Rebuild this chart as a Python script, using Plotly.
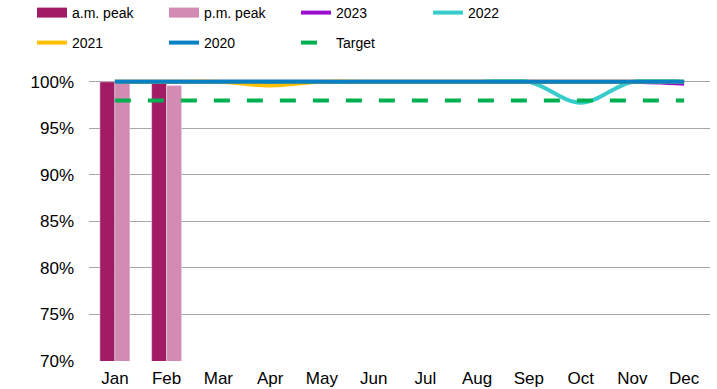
import plotly.graph_objects as go

months = ["Jan", "Feb", "Mar", "Apr", "May", "Jun",
          "Jul", "Aug", "Sep", "Oct", "Nov", "Dec"]

# Peak-period values (%), only reported for the first two months
am_peak = [100.0, 100.0, None, None, None, None, None, None, None, None, None, None]
pm_peak = [100.0, 99.6, None, None, None, None, None, None, None, None, None, None]

# Yearly lines (%)
y2023 = [100.0, 100.0, 100.0, 100.0, 100.0, 100.0, 100.0, 100.0, 100.0, 100.0, 100.0, 99.8]
y2022 = [100.0, 100.0, 100.0, 100.0, 100.0, 100.0, 100.0, 100.0, 100.0, 97.75, 100.0, 100.0]
y2021 = [100.0, 100.0, 100.0, 99.6, 100.0, 100.0, 100.0, 100.0, 100.0, 100.0, 100.0, 100.0]
y2020 = [100.0] * 12
target = [98.0] * 12

y_ticks = [70, 75, 80, 85, 90, 95, 100]
y_tick_labels = ["70%", "75%", "80%", "85%", "90%", "95%", "100%"]

AM_COLOR = "#A31B65"
PM_COLOR = "#D38BB3"
C2023 = "#9A0FCF"
C2022 = "#36CCCC"
C2021 = "#FFC000"
C2020 = "#0880C4"
CTARGET = "#00B050"
FONT = "Liberation Sans, Arial, sans-serif"

fig = go.Figure()

fig.add_trace(go.Bar(x=months, y=am_peak, marker_color=AM_COLOR, showlegend=False, name="a.m. peak"))
fig.add_trace(go.Bar(x=months, y=pm_peak, marker_color=PM_COLOR, showlegend=False, name="p.m. peak"))

# Legend entries for the bars drawn as thick swatches
fig.add_trace(go.Scatter(x=[None], y=[None], mode="lines", name="a.m. peak",
                         line=dict(color=AM_COLOR, width=10), legend="legend"))
fig.add_trace(go.Scatter(x=[None], y=[None], mode="lines", name="p.m. peak",
                         line=dict(color=PM_COLOR, width=10), legend="legend"))

line_specs = [
    ("2023", y2023, C2023, "legend"),
    ("2022", y2022, C2022, "legend"),
    ("2021", y2021, C2021, "legend2"),
    ("2020", y2020, C2020, "legend2"),
]
for name, vals, col, lg in line_specs:
    fig.add_trace(go.Scatter(x=months, y=vals, mode="lines", name=name,
                             line=dict(color=col, width=4, shape="spline", smoothing=1.0),
                             legend=lg))

fig.add_trace(go.Scatter(x=months, y=target, mode="lines", name="Target",
                         line=dict(color=CTARGET, width=4, dash="16px,17px"),
                         legend="legend2"))

legend_common = dict(
    orientation="h", xref="container", yref="container",
    xanchor="left", yanchor="middle", x=32 / 717,
    font=dict(family=FONT, size=14, color="#000000"),
    entrywidth=87, entrywidthmode="pixels",
    bgcolor="rgba(0,0,0,0)", tracegroupgap=0, itemsizing="trace",
)

fig.update_layout(
    width=717, height=389,
    margin=dict(l=89, r=7, t=79, b=28, autoexpand=False),
    paper_bgcolor="white", plot_bgcolor="white",
    font=dict(family=FONT, size=17, color="#000000"),
    barmode="group", bargap=0.42, bargroupgap=0,
    legend=dict(legend_common, y=1 - 13 / 389),
    legend2=dict(legend_common, y=1 - 43 / 389),
    xaxis=dict(showgrid=False, showline=False, ticks="", automargin=False,
               ticklabelstandoff=5, tickfont=dict(size=17)),
    yaxis=dict(range=[70, 100.3], tickmode="array", tickvals=y_ticks,
               ticktext=y_tick_labels, automargin=False,
               showgrid=True, gridcolor="#A6A6A6", gridwidth=1,
               zeroline=False, showline=False, ticks="",
               ticklabelstandoff=14, tickfont=dict(size=17)),
)

fig.write_html("out.html")
